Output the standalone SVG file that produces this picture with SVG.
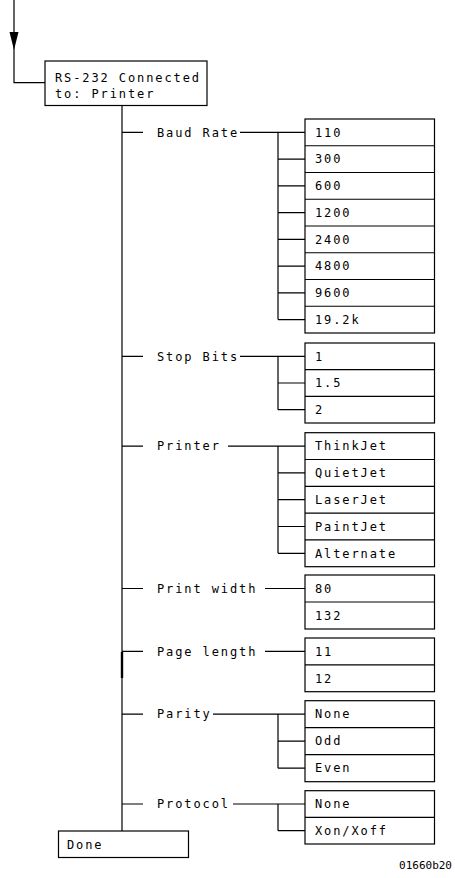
<svg xmlns="http://www.w3.org/2000/svg" width="455" height="878" viewBox="0 0 455 878">
<style>
.ln{stroke:#000;stroke-width:1.2;fill:none}
.bx{stroke:#000;stroke-width:1.2;fill:#fff}
.t{font-family:"DejaVu Sans Mono","Liberation Mono",monospace;font-size:12px;letter-spacing:1.9px;fill:#000}
.id{font-family:"DejaVu Sans Mono","Liberation Mono",monospace;font-size:11px;fill:#000}
</style>
<rect width="455" height="878" fill="#fff"/>
<g id="connectors">
<path class="ln" d="M14,0V82.7H45"/>
<polygon points="9.5,32 18.5,32 14,50" fill="#000"/>
<path class="ln" d="M122,105.5V831"/>
<path d="M122,652V678" stroke="#000" stroke-width="2.4"/>
<!-- Baud Rate -->
<path class="ln" d="M122,132.4H143M240,132.4H305M278,132.4V319.6M278,159.1H305M278,185.9H305M278,212.6H305M278,239.4H305M278,266.1H305M278,292.9H305M278,319.6H305"/>
<!-- Stop Bits -->
<path class="ln" d="M122,356.3H143M240,356.3H305M278,356.3V409.7M278,383H305M278,409.7H305"/>
<!-- Printer -->
<path class="ln" d="M122,446.1H143M228,446.1H305M278,446.1V553.3M278,472.9H305M278,499.7H305M278,526.5H305M278,553.3H305"/>
<!-- Print width -->
<path class="ln" d="M122,588.5H143M265,588.5H305"/>
<!-- Page length -->
<path class="ln" d="M122,651.4H143M265,651.4H305"/>
<!-- Parity -->
<path class="ln" d="M122,714.2H143M213,714.2H305M278,714.2V768.2M278,741.2H305M278,768.2H305"/>
<!-- Protocol -->
<path class="ln" d="M122,804H143M233,804H305M278,804V830.7M278,830.7H305"/>
</g>
<g id="rs232">
<rect class="bx" x="45" y="61" width="162" height="44.5"/>
<text class="t" x="55" y="82">RS-232 Connected</text>
<text class="t" x="55" y="98">to: Printer</text>
</g>
<g id="labels">
<text class="t" x="157" y="136.6">Baud Rate</text>
<text class="t" x="157" y="360.5">Stop Bits</text>
<text class="t" x="157" y="450.3">Printer</text>
<text class="t" x="157" y="592.7">Print width</text>
<text class="t" x="157" y="655.6">Page length</text>
<text class="t" x="157" y="718.4">Parity</text>
<text class="t" x="157" y="808.2">Protocol</text>
</g>
<g id="baud-options">
<rect class="bx" x="305" y="119" width="129.5" height="214"/>
<path class="ln" d="M305,145.75H434.5M305,172.5H434.5M305,199.25H434.5M305,226H434.5M305,252.75H434.5M305,279.5H434.5M305,306.25H434.5"/>
<text class="t" x="315" y="136.6">110</text>
<text class="t" x="315" y="163.3">300</text>
<text class="t" x="315" y="190.1">600</text>
<text class="t" x="315" y="216.8">1200</text>
<text class="t" x="315" y="243.6">2400</text>
<text class="t" x="315" y="270.3">4800</text>
<text class="t" x="315" y="297.1">9600</text>
<text class="t" x="315" y="323.8">19.2k</text>
</g>
<g id="stopbits-options">
<rect class="bx" x="305" y="343" width="129.5" height="80"/>
<path class="ln" d="M305,369.67H434.5M305,396.33H434.5"/>
<text class="t" x="315" y="360.5">1</text>
<text class="t" x="315" y="387.2">1.5</text>
<text class="t" x="315" y="413.9">2</text>
</g>
<g id="printer-options">
<rect class="bx" x="305" y="432.7" width="129.5" height="134"/>
<path class="ln" d="M305,459.5H434.5M305,486.3H434.5M305,513.1H434.5M305,539.9H434.5"/>
<text class="t" x="315" y="450.3">ThinkJet</text>
<text class="t" x="315" y="477.1">QuietJet</text>
<text class="t" x="315" y="503.9">LaserJet</text>
<text class="t" x="315" y="530.7">PaintJet</text>
<text class="t" x="315" y="557.5">Alternate</text>
</g>
<g id="printwidth-options">
<rect class="bx" x="305" y="575" width="129.5" height="54"/>
<path class="ln" d="M305,602H434.5"/>
<text class="t" x="315" y="592.7">80</text>
<text class="t" x="315" y="619.7">132</text>
</g>
<g id="pagelength-options">
<rect class="bx" x="305" y="638" width="129.5" height="53.7"/>
<path class="ln" d="M305,664.9H434.5"/>
<text class="t" x="315" y="655.6">11</text>
<text class="t" x="315" y="682.5">12</text>
</g>
<g id="parity-options">
<rect class="bx" x="305" y="700.7" width="129.5" height="81"/>
<path class="ln" d="M305,727.7H434.5M305,754.7H434.5"/>
<text class="t" x="315" y="718.4">None</text>
<text class="t" x="315" y="745.4">Odd</text>
<text class="t" x="315" y="772.4">Even</text>
</g>
<g id="protocol-options">
<rect class="bx" x="305" y="790.7" width="129.5" height="53.3"/>
<path class="ln" d="M305,817.4H434.5"/>
<text class="t" x="315" y="808.2">None</text>
<text class="t" x="315" y="834.9">Xon/Xoff</text>
</g>
<g id="done">
<rect class="bx" x="58.5" y="831" width="130" height="26.5"/>
<text class="t" x="67" y="848.7">Done</text>
</g>
<text class="id" x="452" y="869" text-anchor="end">01660b20</text>
</svg>
